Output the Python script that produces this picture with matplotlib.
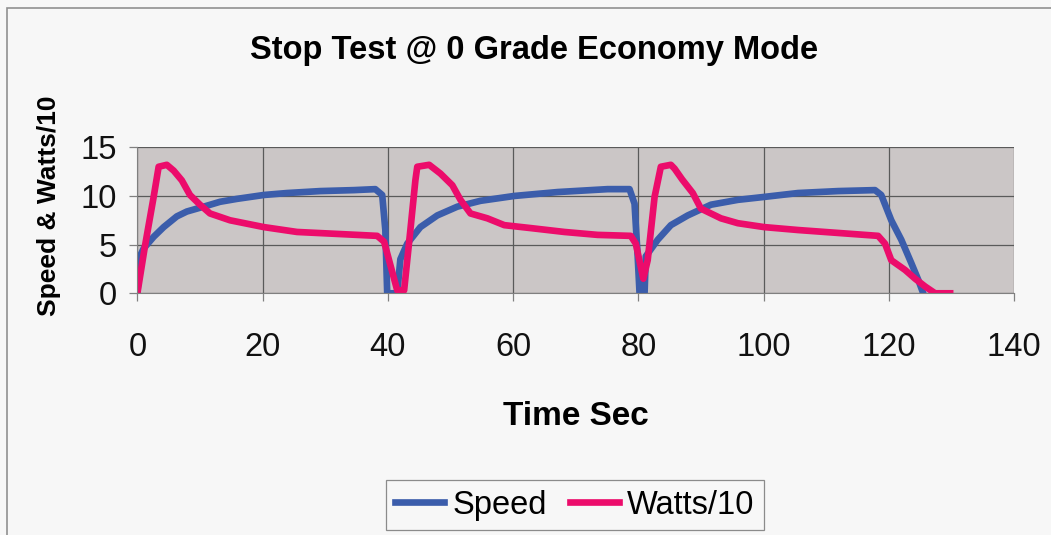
"""Stop test at 0 grade, economy mode: speed and power over three stop cycles."""

import matplotlib

matplotlib.use("Agg")
import matplotlib.pyplot as plt
from matplotlib.patches import Rectangle

# values
speed_t = [0, 0.4, 1, 2.6, 4.2, 6.3, 7.9, 10.6, 13.2, 15.9, 20.2, 23.9, 29.2,
           34.6, 38, 39.1, 39.6, 39.9, 41.5, 42.0, 43.1, 45.2, 47.9, 51.1, 54.8,
           60.2, 67.1, 75.1, 78.6, 79.4, 79.9, 80.2, 81.0, 81.2, 83.1, 85.2,
           87.9, 91.6, 95.9, 100.1, 105.5, 111.9, 117.8, 118.8, 120.4, 122.0,
           123.6, 124.7, 125.5]
speed = [0, 3.8, 4.6, 5.8, 6.8, 7.9, 8.4, 8.9, 9.4, 9.7, 10.1, 10.3, 10.5,
         10.6, 10.7, 10.1, 6.5, 0, 0, 3.5, 5.1, 6.8, 8.0, 8.9, 9.5,
         10.0, 10.4, 10.7, 10.7, 9.2, 3.8, 0, 0, 3.8, 5.5, 7.0,
         8.0, 9.1, 9.6, 9.9, 10.3, 10.5, 10.6, 10.1, 7.5, 5.5,
         3.1, 1.4, 0]

watts_t = [0, 1.2, 2.6, 3.4, 4.7, 5.8, 7.1, 8.4, 10.0, 11.6, 14.8, 20.2, 25.5,
           31.9, 38.3, 39.4, 41.5, 42.6, 43.6, 44.4, 44.7, 46.6, 48.4, 50.3,
           51.6, 53.2, 55.9, 58.6, 62.8, 68.2, 73.5, 78.8, 79.6, 80.8, 81.5,
           82.6, 83.6, 85.2, 85.8, 87.0, 88.7, 90.0, 93.2, 95.9, 100.1, 105.5,
           111.9, 118.3, 119.4, 120.4, 122.6, 124.2, 125.8, 127.4, 129.8]
watts10 = [0, 4.8, 9.9, 13.0, 13.2, 12.6, 11.6, 10.1, 9.1, 8.2, 7.5, 6.8, 6.3,
           6.1, 5.9, 5.3, 0.3, 0.3, 6.5, 11.6, 13.0, 13.2, 12.3, 11.1,
           9.6, 8.2, 7.7, 7.0, 6.7, 6.3, 6.0, 5.9, 5.1, 1.5, 3.4,
           9.9, 13.0, 13.2, 12.8, 11.7, 10.3, 8.7, 7.7, 7.2, 6.8, 6.5,
           6.2, 5.9, 5.1, 3.4, 2.4, 1.5, 0.7, 0, 0]

x_ticks = [0, 20, 40, 60, 80, 100, 120, 140]
y_ticks = [0, 5, 10, 15]

BLUE = "#3b5dab"
PINK = "#ec0c6b"
SANS = ["Liberation Sans", "DejaVu Sans"]


def main():
    fig = plt.figure(figsize=(10.51, 5.35), dpi=100, facecolor="#f7f7f7")
    ax = fig.add_axes([0.1307, 0.4518, 0.8341, 0.2729])
    ax.set_facecolor("#cbc6c6")

    ax.plot(speed_t, speed, color=BLUE, lw=4.8, label="Speed")
    ax.plot(watts_t, watts10, color=PINK, lw=4.8, label="Watts/10")

    ax.set_xlim(0, 140)
    ax.set_ylim(0, 15)
    ax.set_xticks(x_ticks)
    ax.set_yticks(y_ticks)
    ax.grid(True, color="#5a5a5a", lw=0.9)
    ax.set_axisbelow(True)
    for side in ("top", "right"):
        ax.spines[side].set_visible(False)
    for side in ("left", "bottom"):
        ax.spines[side].set_color("#808080")
    ax.tick_params(axis="both", length=6, color="#808080", width=0.9)
    ax.tick_params(axis="x", pad=22)
    ax.tick_params(axis="y", pad=9)
    for lbl in ax.get_xticklabels() + ax.get_yticklabels():
        lbl.set_family(SANS)
        lbl.set_fontsize(23.5)
        lbl.set_color("#111111")

    ax.set_ylabel("Speed & Watts/10", family=SANS, fontweight="bold", fontsize=19)
    ax.yaxis.set_label_coords(-0.087, 0.598)
    ax.set_xlabel("Time Sec", family=SANS, fontweight="bold", fontsize=24)
    ax.xaxis.set_label_coords(0.5, -0.74)

    fig.text(0.508, 0.9065, "Stop Test @ 0 Grade Economy Mode", family=SANS,
             fontweight="bold", fontsize=23.5, ha="center", va="center")

    leg = ax.legend(loc="center", bbox_to_anchor=(0.547, 0.056),
                    bbox_transform=fig.transFigure, ncol=2, frameon=True,
                    fancybox=False, prop={"family": SANS, "size": 23.5},
                    handlelength=1.5, handletextpad=0.25, columnspacing=0.7,
                    borderpad=0.3)
    leg.get_frame().set_edgecolor("#707070")
    leg.get_frame().set_facecolor("#f7f7f7")
    leg.get_frame().set_linewidth(0.9)

    # thin outer chart-area border, clipped by the image edge
    fig.patches.append(Rectangle((7 / 1051, -0.05), 1.2, 1.05 - 8 / 535,
                                 transform=fig.transFigure, fill=False,
                                 edgecolor="#909090", lw=1.2))

    fig.savefig("out.png", dpi=100, facecolor=fig.get_facecolor())
    plt.close(fig)


if __name__ == "__main__":
    main()
